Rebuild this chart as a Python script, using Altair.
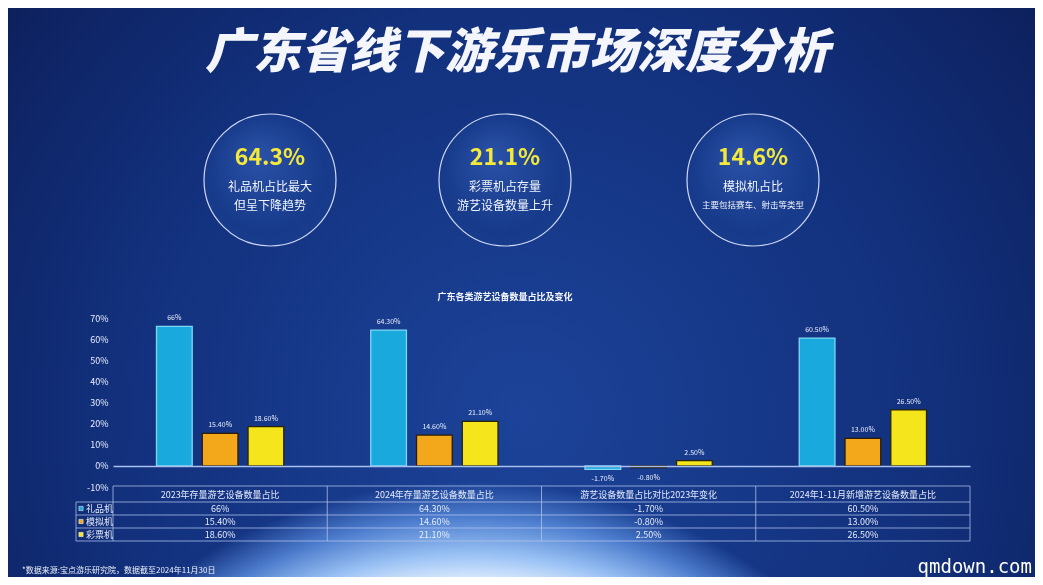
import altair as alt
import pandas as pd

# ---------------- data ----------------
categories = [
    "2023年存量游艺设备数量占比",
    "2024年存量游艺设备数量占比",
    "游艺设备数量占比对比2023年变化",
    "2024年1-11月新增游艺设备数量占比",
]
series = ["礼品机", "模拟机", "彩票机"]
gift_values = [66.0, 64.3, -1.7, 60.5]
sim_values = [15.4, 14.6, -0.8, 13.0]
lottery_values = [18.6, 21.1, 2.5, 26.5]
gift_labels = ["66%", "64.30%", "-1.70%", "60.50%"]
sim_labels = ["15.40%", "14.60%", "-0.80%", "13.00%"]
lottery_labels = ["18.60%", "21.10%", "2.50%", "26.50%"]
y_ticks = [-10, 0, 10, 20, 30, 40, 50, 60, 70]

title_text = "广东省线下游乐市场深度分析"
chart_title = "广东各类游艺设备数量占比及变化"
circle_values = ["64.3%", "21.1%", "14.6%"]
circle_line1 = ["礼品机占比最大", "彩票机占存量", "模拟机占比"]
circle_line2 = ["但呈下降趋势", "游艺设备数量上升", "主要包括赛车、射击等类型"]
footnote = "*数据来源:宝点游乐研究院，数据截至2024年11月30日"
watermark = "qmdown.com"

series_colors = ["#19a9dd", "#f3a81b", "#f5e51d"]
bar_strokes = ["#7fd8f5", "#2a1d05", "#2a2605"]

rows = []
for s, vals, labs in zip(series, [gift_values, sim_values, lottery_values],
                         [gift_labels, sim_labels, lottery_labels]):
    for c, v, l in zip(categories, vals, labs):
        rows.append({"cat": c, "series": s, "value": v, "label": l})
df = pd.DataFrame(rows)
cat_df = pd.DataFrame({"cat": categories})

# ---------------- layout helpers ----------------
W, H = 857, 169
OX, OY = 113, 318          # page position of plot origin


def X(px):
    return px - OX


def Y(py):
    return py - OY


FONT = "Noto Sans CJK SC"
one = alt.Data(values=[{"a": 1}])

x_scale = alt.Scale(domain=categories, paddingInner=0, paddingOuter=0)
x_enc = alt.X("cat:N", scale=x_scale, axis=None)
xoff = alt.XOffset("series:N", scale=alt.Scale(domain=series, paddingInner=0.22, paddingOuter=0.95))
y_enc = alt.Y(
    "value:Q",
    scale=alt.Scale(domain=[-10, 70], nice=False),
    axis=alt.Axis(
        values=y_ticks, labelExpr="datum.value + '%'", title=None, domain=False,
        ticks=False, labelColor="#e8eeff", labelFontSize=9, labelFont=FONT,
        labelPadding=5, grid=True, zindex=1,
        gridColor={"condition": {"test": "datum.value === 0", "value": "#a8c0ee"}, "value": "transparent"},
        gridWidth=1.5,
    ),
)

layers = []

# background
bg = alt.Chart(one).mark_rect(
    fill=alt.RadialGradient(
        gradient="radial",
        stops=[alt.GradientStop(color="#1c4399", offset=0),
               alt.GradientStop(color="#12307c", offset=0.5),
               alt.GradientStop(color="#0a1649", offset=1)],
        x1=0.5, y1=0.62, r1=0, x2=0.5, y2=0.62, r2=0.8,
    )
).encode(x=alt.value(X(8)), x2=alt.value(X(1035)), y=alt.value(Y(8)), y2=alt.value(Y(577)))
layers.append(bg)

# light glow rising from below the bottom edge (screen blend: black is neutral)
glow = alt.Chart(one).mark_rect(
    blend="screen",
    fill=alt.RadialGradient(
        gradient="radial",
        stops=[alt.GradientStop(color="#ffffff", offset=0),
               alt.GradientStop(color="#e6efff", offset=0.8),
               alt.GradientStop(color="#8eaee6", offset=0.86),
               alt.GradientStop(color="#3a5590", offset=0.93),
               alt.GradientStop(color="#000000", offset=1)],
        x1=0.45, y1=1.19, r1=0, x2=0.45, y2=1.19, r2=0.506,
    )
).encode(x=alt.value(X(8)), x2=alt.value(X(1035)), y=alt.value(Y(8)), y2=alt.value(Y(577)))
layers.append(glow)

# title
layers.append(
    alt.Chart(one).mark_text(
        text=title_text, font=FONT, fontSize=48, fontWeight=900, fontStyle="italic",
        color="#f4f6fb", align="center", baseline="middle",
    ).encode(x=alt.value(X(517)), y=alt.value(Y(54)))
)

# circles
circle_cx = [270, 505, 753]
for i in range(3):
    cx = circle_cx[i]
    layers.append(
        alt.Chart(one).mark_point(
            shape="circle", size=132 * 132, filled=True,
            fill=alt.RadialGradient(
                gradient="radial",
                stops=[alt.GradientStop(color="#2a52a8", offset=0),
                       alt.GradientStop(color="#173a8a", offset=0.75),
                       alt.GradientStop(color="#1a3f90", offset=1)],
                x1=0.4, y1=0.3, r1=0, x2=0.5, y2=0.5, r2=0.6,
            ),
            stroke="#cfd9f6", strokeWidth=1.2, opacity=1, fillOpacity=1,
        ).encode(x=alt.value(X(cx)), y=alt.value(Y(180)))
    )
    layers.append(
        alt.Chart(one).mark_text(
            text=circle_values[i], font=FONT, fontSize=23, fontWeight="bold",
            color="#f4e83a", align="center", baseline="middle",
        ).encode(x=alt.value(X(cx)), y=alt.value(Y(158)))
    )
    layers.append(
        alt.Chart(one).mark_text(
            text=circle_line1[i], font=FONT, fontSize=12, color="#f2f5fc",
            align="center", baseline="middle",
        ).encode(x=alt.value(X(cx)), y=alt.value(Y(187)))
    )
    layers.append(
        alt.Chart(one).mark_text(
            text=circle_line2[i], font=FONT, fontSize=12 if i < 2 else 8.5, color="#f2f5fc",
            align="center", baseline="middle",
        ).encode(x=alt.value(X(cx)), y=alt.value(Y(206 if i < 2 else 205)))
    )

# chart title
layers.append(
    alt.Chart(one).mark_text(
        text=chart_title, font=FONT, fontSize=9, fontWeight="bold", color="#f4f6fb",
        align="center", baseline="middle",
    ).encode(x=alt.value(X(505)), y=alt.value(Y(297)))
)

# bars
bars = alt.Chart(df).mark_bar(strokeWidth=1.3).encode(
    x=x_enc, xOffset=xoff, y=y_enc, y2=alt.datum(0),
    color=alt.Color("series:N", scale=alt.Scale(domain=series, range=series_colors), legend=None),
    stroke=alt.Stroke("series:N", scale=alt.Scale(domain=series, range=bar_strokes), legend=None),
)
layers.append(bars)

pos_labels = alt.Chart(df).transform_filter(alt.datum.value >= 0).mark_text(
    font=FONT, fontSize=7, color="#e9eefc", baseline="bottom", dy=-5,
).encode(x=x_enc, xOffset=xoff, y=y_enc, text="label:N")
neg_labels = alt.Chart(df).transform_filter(alt.datum.value < 0).mark_text(
    font=FONT, fontSize=7, color="#e9eefc", baseline="top", dy=6,
).encode(x=x_enc, xOffset=xoff, y=y_enc, text="label:N")
layers += [pos_labels, neg_labels]

# table grid
line_color = "#b3c6ee"
layers.append(
    alt.Chart(one).mark_rule(color=line_color, strokeWidth=1, opacity=0.75).encode(
        x=alt.value(0), x2=alt.value(W), y=alt.value(Y(486)))
)
for yy in [502, 515, 528, 541]:
    layers.append(
        alt.Chart(one).mark_rule(color=line_color, strokeWidth=1, opacity=0.75).encode(
            x=alt.value(X(76)), x2=alt.value(W), y=alt.value(Y(yy)))
    )
layers.append(
    alt.Chart(cat_df).mark_rule(color=line_color, strokeWidth=1, opacity=0.75).encode(
        x=alt.X("cat:N", scale=x_scale, axis=None, bandPosition=0),
        y=alt.value(Y(486)), y2=alt.value(Y(541)))
)
layers.append(
    alt.Chart(one).mark_rule(color=line_color, strokeWidth=1, opacity=0.75).encode(
        x=alt.value(W), y=alt.value(Y(486)), y2=alt.value(Y(541)))
)
layers.append(
    alt.Chart(one).mark_rule(color=line_color, strokeWidth=1, opacity=0.75).encode(
        x=alt.value(X(76)), y=alt.value(Y(502)), y2=alt.value(Y(541)))
)

# table header
layers.append(
    alt.Chart(cat_df).mark_text(font=FONT, fontSize=9, color="#e6ecfb", baseline="middle").encode(
        x=x_enc, y=alt.value(Y(494.5)), text="cat:N")
)
row_y = [508.5, 521.5, 534.5]
for i, s in enumerate(series):
    layers.append(
        alt.Chart(df).transform_filter(alt.datum.series == s).mark_text(
            font=FONT, fontSize=9, color="#e6ecfb", baseline="middle",
        ).encode(x=x_enc, y=alt.value(Y(row_y[i])), text="label:N")
    )
    layers.append(
        alt.Chart(one).mark_point(shape="square", filled=True, size=18, color=series_colors[i],
                                  opacity=1, stroke="#ffffff", strokeWidth=0.5).encode(
            x=alt.value(X(81)), y=alt.value(Y(row_y[i])))
    )
    layers.append(
        alt.Chart(one).mark_text(text=s, font=FONT, fontSize=9, color="#e6ecfb",
                                 align="left", baseline="middle").encode(
            x=alt.value(X(86)), y=alt.value(Y(row_y[i])))
    )

# footnote & watermark
layers.append(
    alt.Chart(one).mark_text(text=footnote, font=FONT, fontSize=8, color="#eef2fc",
                             align="left", baseline="middle").encode(
        x=alt.value(X(22)), y=alt.value(Y(571)))
)
layers.append(
    alt.Chart(one).mark_text(text=watermark, font="DejaVu Sans Mono", fontSize=19,
                             color="#ffffff", align="right", baseline="middle").encode(
        x=alt.value(X(1032)), y=alt.value(Y(567)))
)

chart = alt.layer(*layers).properties(
    width=W, height=H,
    padding={"left": 105, "top": 310, "right": 65, "bottom": 90},
    autosize=alt.AutoSizeParams(type="none"),
).configure(background="#0c1b55").configure_view(stroke=None)

chart.save("out.html", embed_options={"renderer": "svg", "actions": False})
